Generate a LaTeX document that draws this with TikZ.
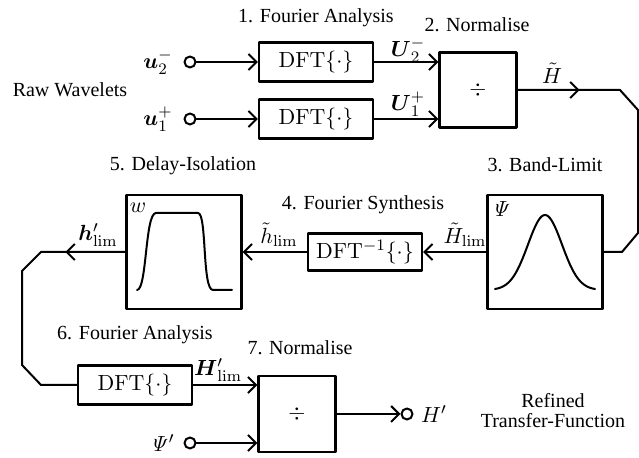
\documentclass[tikz,border=0pt]{standalone}
\usepackage{amsmath,amssymb}
\usepackage[no-math]{fontspec}
\setmainfont{Liberation Serif}
\usetikzlibrary{arrows.meta, decorations.markings, positioning}
\tikzset{el/.style={line cap=round, line join=round},
  blk/.style={draw, line width=1.1pt, inner sep=0pt, minimum width=57pt, minimum height=19.5pt, mth},
  nbox/.style={draw, line width=1.1pt, inner sep=0pt, minimum width=38.5pt, minimum height=37.5pt, mth},
  fbox/.style={draw, line width=1.1pt, inner sep=0pt, minimum width=57.5pt, minimum height=57pt},
  term/.style={circle, draw, line width=1pt, inner sep=0pt, minimum size=5.5pt},
  mth/.style={font=\fontsize{11.2}{13}\selectfont},
  lbl/.style={mth, inner sep=0.5pt},
  sig/.style={line width=1pt, -{Straight Barb[length=4pt,width=8pt]}},
  midtip/.style={line width=1pt, postaction={decorate}, decoration={markings, mark=at position #1 with {\arrow{Straight Barb[length=4pt,width=8pt]}}}}}

\begin{document}
\begin{tikzpicture}[el, x=0.5pt, y=-0.5pt]
  \useasboundingbox (0,0) rectangle (639,458);
  \node[blk] (dftA) at (316,62) {$\mathrm{DFT}\{\cdot\}$};
  \node[blk] (dftB) at (316,119) {$\mathrm{DFT}\{\cdot\}$};
  \node[nbox] (divA) at (478,90) {$\div$};
  \node[fbox] (band) at (545,252) {};
  \node[blk, minimum height=18.5pt] (idft) at (365,252) {$\mathrm{DFT}^{-1}\{\cdot\}$};
  \node[fbox] (win) at (184,252) {};
  \node[blk] (dftC) at (135,385) {$\mathrm{DFT}\{\cdot\}$};
  \node[nbox, minimum height=38pt] (divB) at (297,414) {$\div$};
  \node[term] (uA) at (190,62) {};
  \node[term] (uB) at (190,119) {};
  \node[term] (psi) at (190,443) {};
  \node[term] (hout) at (407,414) {};
  \coordinate (rA) at (620,90); \coordinate (rB) at (638,110); \coordinate (rC) at (638,233); \coordinate (rD) at (622,252);
  \coordinate (lA) at (41,252); \coordinate (lB) at (22,271); \coordinate (lC) at (22,365); \coordinate (lD) at (41,385);
  \draw[sig] (uA) -- (dftA);
  \draw[sig] (uB) -- (dftB);
  \draw[sig] (dftA) -- (dftA -| divA.west);
  \draw[sig] (dftB) -- (dftB -| divA.west);
  \draw[midtip=31pt] (divA) -- (rA) -- (rB) -- (rC) -- (rD) -- (band);
  \draw[sig] (band) -- (idft);
  \draw[sig] (idft) -- (win);
  \draw[midtip=30pt] (win) -- (lA) -- (lB) -- (lC) -- (lD) -- (dftC);
  \draw[sig] (dftC) -- (dftC -| divB.west);
  \draw[sig] (psi) -- (psi -| divB.west);
  \draw[sig] (divB) -- (hout);
  \draw[line width=1pt] plot[domain=-50:50, samples=61] ({545+\x},{290-75*exp(-(\x*\x)/578)});
  \draw[line width=1pt] (137,290) .. controls (147,290) and (145,213) .. (156,213) -- (198,213) .. controls (207,213) and (202,290) .. (213,290) -- (232,290);
  \node[lbl] (psiL) at (501,209) {$\mathit{\Psi}$};
  \node[lbl] (wL) at (138,208) {$w$};
  \node[lbl] (uAL) at (158,62) {$\boldsymbol{u}_2^-$};
  \node[lbl] (uBL) at (158,119) {$\boldsymbol{u}_1^+$};
  \node (raw) at (70,90) {Raw Wavelets};
  \node (t1) at (316,18) {1. Fourier Analysis};
  \node (t2) at (477,25) {2. Normalise};
  \node[lbl] (UAL) at (408,50) {$\boldsymbol{U}_2^-$};
  \node[lbl] (UBL) at (408,104) {$\boldsymbol{U}_1^+$};
  \node[lbl] (HtL) at (552,73) {$\tilde{H}$};
  \node (t3) at (545,165) {3. Band-Limit};
  \node (t4) at (363,205) {4. Fourier Synthesis};
  \node (t5) at (183,166) {5. Delay-Isolation};
  \node[lbl] (HlimL) at (465,235) {$\tilde{H}_{\mathrm{lim}}$};
  \node[lbl] (hlimL) at (279,235) {$\tilde{h}_{\mathrm{lim}}$};
  \node[lbl] (hpL) at (98,235) {$\boldsymbol{h}'_{\mathrm{lim}}$};
  \node (t6) at (135,335) {6. Fourier Analysis};
  \node (t7) at (300,348) {7. Normalise};
  \node[lbl] (HpL) at (218,370) {$\boldsymbol{H}'_{\mathrm{lim}}$};
  \node[lbl] (psiP) at (162,443) {$\mathit{\Psi}'$};
  \node[lbl] (HoutL) at (434,414) {$H'$};
  \node[align=center] (refd) at (553,411) {Refined\\[-2pt]Transfer-Function};
\end{tikzpicture}
\end{document}
